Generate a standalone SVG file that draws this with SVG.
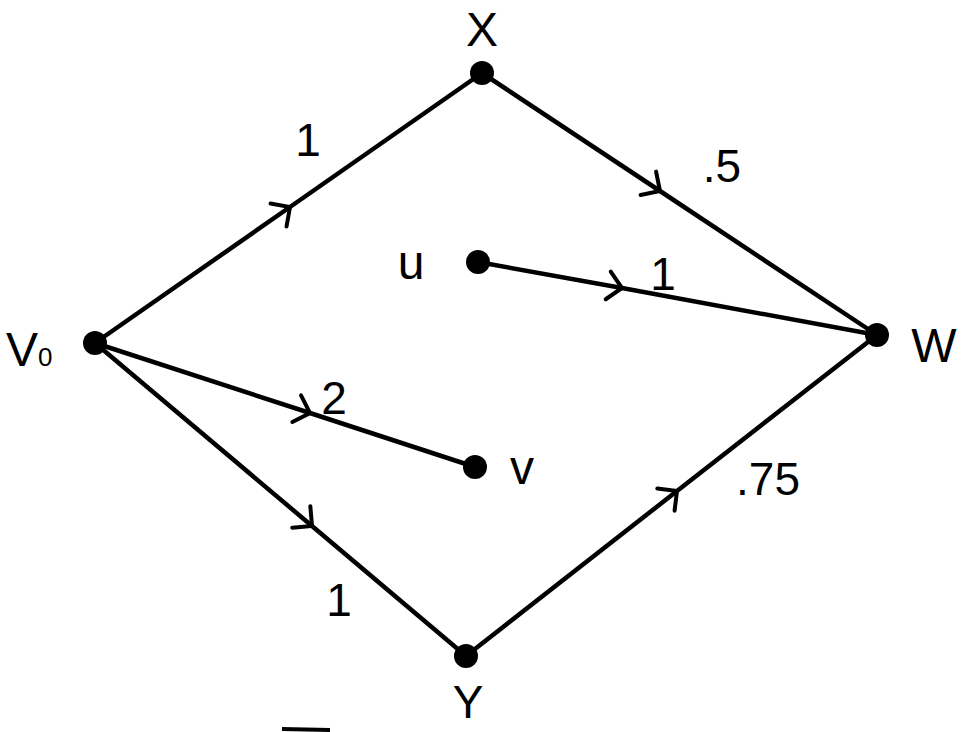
<svg xmlns="http://www.w3.org/2000/svg" width="979" height="732" viewBox="0 0 979 732">
<style>
.e{stroke:#000;stroke-width:4.5;fill:none;stroke-linecap:round;marker-mid:url(#chev)}
.n{fill:#000}
.t{font-family:"Liberation Sans",Arial,sans-serif;fill:#000}
.lab{font-size:48px}
.w{font-size:46px}
</style>
<defs>
<marker id="chev" viewBox="-20 -20 40 40" markerWidth="40" markerHeight="40" refX="0" refY="0" orient="auto" markerUnits="userSpaceOnUse">
<path d="M-14,-14 L0,0 L-14,14" stroke="#000" stroke-width="4" fill="none" stroke-linecap="round"/>
</marker>
</defs>
<rect width="979" height="732" fill="#fff"/>
<g id="connectors">
<polyline class="e" points="95,343 290,207 482,73"/>
<polyline class="e" points="482,73 660,191 877,335"/>
<polyline class="e" points="478,262 622,288 877,335"/>
<polyline class="e" points="95,343 310,413 475,467"/>
<polyline class="e" points="95,343 312,526 466,656"/>
<polyline class="e" points="466,656 677,491 877,335"/>
</g>
<g id="node-V0"><circle class="n" cx="95" cy="343" r="12"/><text class="t lab" x="6" y="366">V<tspan font-size="26">0</tspan></text></g>
<g id="node-X"><circle class="n" cx="482" cy="73" r="12"/><text class="t lab" x="482" y="46" text-anchor="middle">X</text></g>
<g id="node-U"><circle class="n" cx="478" cy="262" r="12"/><text class="t lab" x="411" y="279" text-anchor="middle">u</text></g>
<g id="node-W"><circle class="n" cx="877" cy="335" r="12"/><text class="t lab" x="934" y="362" text-anchor="middle">W</text></g>
<g id="node-V"><circle class="n" cx="475" cy="467" r="12"/><text class="t lab" x="522" y="484" text-anchor="middle">v</text></g>
<g id="node-Y"><circle class="n" cx="466" cy="656" r="12"/><text class="t" font-size="46" x="468" y="718" text-anchor="middle">Y</text></g>
<g id="edge-labels">
<text class="t w" x="308" y="156" text-anchor="middle">1</text>
<text class="t w" x="722" y="182" text-anchor="middle">.5</text>
<text class="t w" x="663" y="290" text-anchor="middle">1</text>
<text class="t w" x="334" y="414" text-anchor="middle">2</text>
<text class="t w" x="339" y="616" text-anchor="middle">1</text>
<text class="t w" x="768" y="495" text-anchor="middle">.75</text>
</g>
<path d="M282,729 L330,730" stroke="#000" stroke-width="4" fill="none"/>
</svg>
